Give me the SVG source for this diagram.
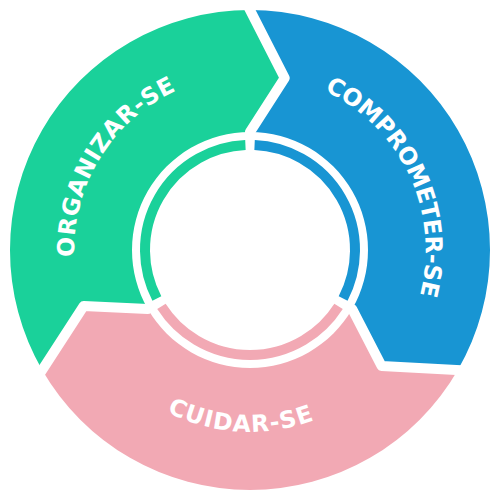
<svg xmlns="http://www.w3.org/2000/svg" xmlns:xlink="http://www.w3.org/1999/xlink" width="500" height="500" viewBox="0 0 500 500">
  <style>
    .lbl { font-family: "DejaVu Sans", "Liberation Sans", sans-serif; font-weight: 700; font-size: 23.5px; fill: #ffffff; }
    .sep { fill: none; stroke: #ffffff; stroke-width: 10; stroke-linejoin: round; stroke-linecap: round; }
    .inner { fill: none; stroke-width: 10; }
  </style>
  <defs>
    <path id="arcTop" d="M 84.7 189.9 A 176 176 0 0 1 415.3 189.9"/>
    <path id="arcBottom" d="M 79 312.2 A 182 182 0 0 0 421 312.2"/>
    <polyline id="sepLine" points="246.4,2.9 284.7,78 250,132"/>
  </defs>
  <rect width="500" height="500" fill="#ffffff"/>

  <g id="organizar">
    <path d="M 250 10 A 240 240 0 0 0 42.15 370 L 83.7 305.95 L 147.81 309 A 118 118 0 0 1 250 132 L 284.7 78 Z" fill="#1AD19A"/>
    <path class="inner" stroke="#1AD19A" d="M 156.86 298.48 A 105 105 0 0 1 245.42 145.1"/>
    <text class="lbl" transform="rotate(-58.5 250 250)"><textPath xlink:href="#arcTop" href="#arcTop" startOffset="50%" text-anchor="middle" textLength="207" lengthAdjust="spacing">ORGANIZAR-SE</textPath></text>
  </g>

  <g id="comprometer">
    <path d="M 457.85 370 A 240 240 0 0 0 250 10 L 284.7 78 L 250 132 A 118 118 0 0 1 352.19 309 L 381.6 366.05 Z" fill="#1895D3"/>
    <path class="inner" stroke="#1895D3" d="M 254.58 145.1 A 105 105 0 0 1 343.14 298.48"/>
    <text class="lbl" transform="rotate(65 250 250)"><textPath xlink:href="#arcTop" href="#arcTop" startOffset="50%" text-anchor="middle" textLength="245" lengthAdjust="spacing">COMPROMETER-SE</textPath></text>
  </g>

  <g id="cuidar">
    <path d="M 42.15 370 A 240 240 0 0 0 457.85 370 L 381.6 366.05 L 352.19 309 A 118 118 0 0 1 147.81 309 L 83.7 305.95 Z" fill="#F2A9B4"/>
    <path class="inner" stroke="#F2A9B4" d="M 338.56 306.42 A 105 105 0 0 1 161.44 306.42"/>
    <text class="lbl" transform="rotate(3.3 250 250)"><textPath xlink:href="#arcBottom" href="#arcBottom" startOffset="50%" text-anchor="middle" textLength="152" lengthAdjust="spacing">CUIDAR-SE</textPath></text>
  </g>

  <g id="connectors">
    <use href="#sepLine" xlink:href="#sepLine" class="sep"/>
    <use href="#sepLine" xlink:href="#sepLine" class="sep" transform="rotate(120 250 250)"/>
    <use href="#sepLine" xlink:href="#sepLine" class="sep" transform="rotate(240 250 250)"/>
  </g>
</svg>
